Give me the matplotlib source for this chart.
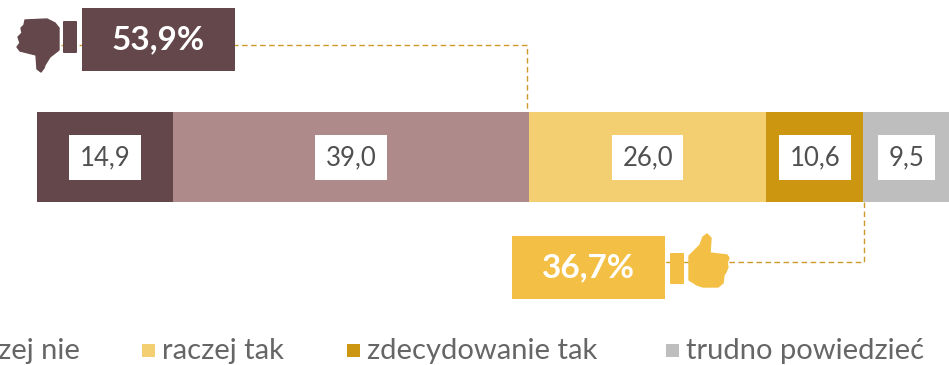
import matplotlib
matplotlib.use("Agg")
import matplotlib.pyplot as plt
from matplotlib.patches import Rectangle, Polygon, FancyBboxPatch

plt.rcParams['font.family'] = ['Lato', 'DejaVu Sans']

# ----- Data -----
values = [14.9, 39.0, 26.0, 10.6, 9.5]
value_labels = ["14,9", "39,0", "26,0", "10,6", "9,5"]
colors = ["#64474A", "#AE8B8A", "#F4CF72", "#CC9610", "#BEBEBE"]
legend_names = ["raczej tak", "zdecydowanie tak", "trudno powiedzieć"]
legend_colors = ["#F4CF72", "#CC9610", "#BEBEBE"]
legend_x = [142, 347, 666]
cut_legend_name = "raczej nie"
neg_label = "53,9%"
pos_label = "36,7%"

W, H = 949, 365
PX_PER_UNIT = 9.13
DASH = "#CC9B2B"
BROWN = "#64474A"
YELLOW = "#F3C045"
GREY_TEXT = "#666666"

fig = plt.figure(figsize=(W / 100, H / 100), dpi=100)

# overlay in pixel coordinates for the annotations
ax_px = fig.add_axes([0, 0, 1, 1], zorder=1)
ax_px.set_xlim(0, W)
ax_px.set_ylim(H, 0)
ax_px.axis("off")

# ----- Stacked bar -----
ax = fig.add_axes([0, 0, 1, 1], zorder=2)
ax.patch.set_alpha(0)
ax.set_xlim(-37 / PX_PER_UNIT, (W - 37) / PX_PER_UNIT)
ax.set_ylim(H - 157, -157)  # y=0 is the bar centre, in pixels
ax.axis("off")

left = 0
for v, lab, c in zip(values, value_labels, colors):
    ax.barh(0, v, left=left, height=90, color=c, linewidth=0)
    ax.text(left + v / 2, 0.5, lab, ha="center", va="center", fontsize=18.5, color="#505050",
            bbox=dict(facecolor="white", edgecolor="none", boxstyle="square,pad=0.40"))
    left += v

# ----- Dashed connectors -----
ax_px.plot([61, 527, 527], [45, 45, 112], color=DASH, lw=1, ls=(0, (4, 2.5)))
ax_px.plot([864, 864, 664], [202, 262, 262], color=DASH, lw=1, ls=(0, (4, 2.5)))


def add_callout(x, y, w, h, color, label, cuff, hand):
    ax_px.add_patch(Rectangle((x, y), w, h, facecolor=color, edgecolor="none", zorder=3))
    ax_px.text(x + w / 2, y + h / 2, label, ha="center", va="center", color="white",
               fontsize=24, fontweight="bold", zorder=4)
    cx, cy, cw, ch = cuff
    ax_px.add_patch(FancyBboxPatch((cx + 1, cy + 1), cw - 2, ch - 2, boxstyle="round,pad=1",
                                   facecolor=color, edgecolor="none", zorder=3))
    ax_px.add_patch(Polygon(hand, closed=True, facecolor=color, edgecolor=color, lw=1,
                            joinstyle="round", zorder=3))


thumb_down = [(25, 20), (47, 19), (55, 23), (59, 28), (59, 50), (50, 57), (45, 65), (44, 68),
              (41, 72), (37, 69), (36, 55), (20, 51), (17, 47), (20, 43), (18, 37), (22, 33),
              (21, 28), (24, 25)]
thumb_up = [(689, 256), (700, 245), (703, 237), (707, 234), (711, 238), (710, 253), (727, 255),
            (729, 258), (727, 263), (728, 267), (726, 272), (724, 275), (723, 283), (718, 287),
            (703, 287), (697, 285), (689, 280)]

add_callout(82, 8, 153, 63, BROWN, neg_label, (63, 21, 14, 32), thumb_down)
add_callout(512, 236, 153, 63, YELLOW, pos_label, (670, 253, 14, 31), thumb_up)

# ----- Legend (cut off at the left edge, as in the source) -----
ax_px.text(80, 351, cut_legend_name, ha="right", va="center", fontsize=21, color=GREY_TEXT)
for sx, name, c in zip(legend_x, legend_names, legend_colors):
    ax_px.add_patch(Rectangle((sx, 344), 13, 13, facecolor=c, edgecolor="none"))
    ax_px.text(sx + 20, 351, name, ha="left", va="center", fontsize=21, color=GREY_TEXT)

fig.savefig("out.png", dpi=100)
